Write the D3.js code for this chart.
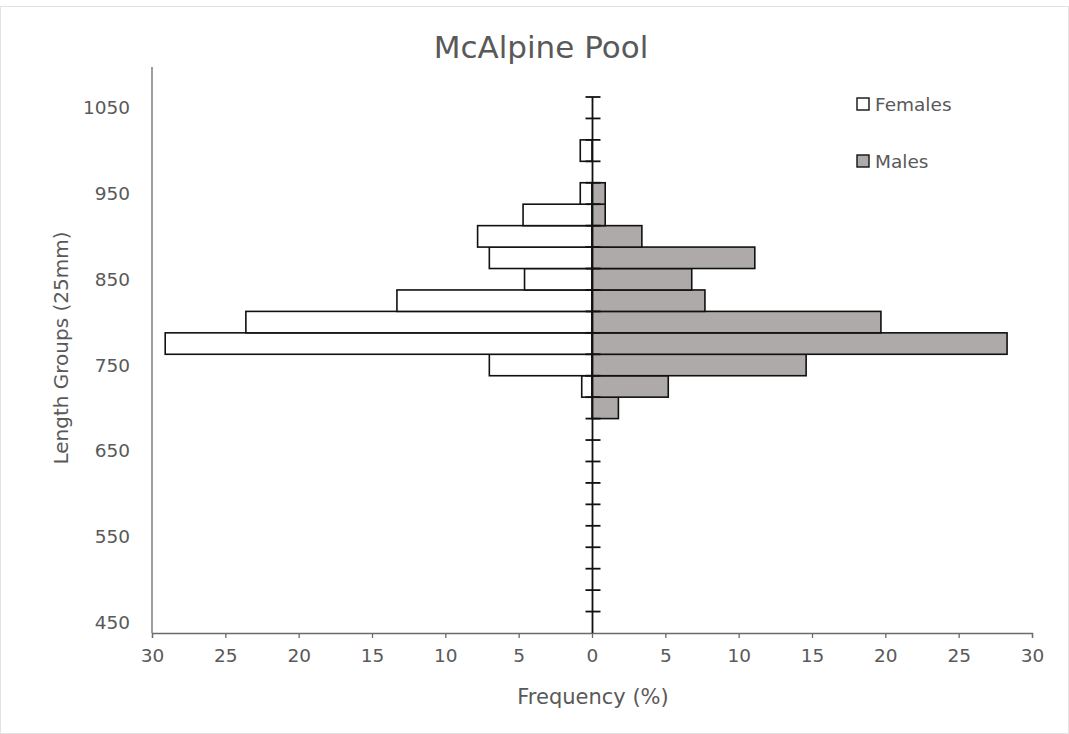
<!DOCTYPE html>
<html>
<head>
<meta charset="utf-8">
<script src="https://cdn.jsdelivr.net/npm/d3@7"></script>
<style>
  html, body { margin: 0; padding: 0; background: #fff; }
  text { font-family: "DejaVu Sans", sans-serif; fill: #595959; }
</style>
</head>
<body>
<svg id="chart" width="1069" height="734"></svg>
<script>
// ---- data ----
const lengthGroups = [450, 475, 500, 525, 550, 575, 600, 625, 650, 675, 700, 725, 750,
                      775, 800, 825, 850, 875, 900, 925, 950, 975, 1000, 1025, 1050];
const females = [0, 0, 0, 0, 0, 0, 0, 0, 0, 0, 0, 0.7, 7.0,
                 29.1, 23.6, 13.3, 4.6, 7.0, 7.8, 4.7, 0.8, 0, 0.8, 0, 0];
const males   = [0, 0, 0, 0, 0, 0, 0, 0, 0, 0, 1.8, 5.2, 14.6,
                 28.3, 19.7, 7.7, 6.8, 11.1, 3.4, 0.9, 0.9, 0, 0, 0, 0];
const yLabels = [450, 550, 650, 750, 850, 950, 1050];
const xTicks = [-30, -25, -20, -15, -10, -5, 0, 5, 10, 15, 20, 25, 30];
const seriesNames = ["Females", "Males"];
const seriesColors = ["#ffffff", "#aeaaaa"];

// ---- layout ----
const svg = d3.select("#chart");
const W = 1069, H = 734;
const plot = { left: 152, right: 1032, top: 67, bottom: 633, bandTop: 97 };

svg.append("rect").attr("x", 0.5).attr("y", 6.5).attr("width", W - 1).attr("height", H - 7)
  .attr("fill", "#fff").attr("stroke", "#e3e3e3");

const x = d3.scaleLinear().domain([-30, 30]).range([plot.left, plot.right]);
const y = d3.scaleBand().domain(lengthGroups).range([plot.bottom, plot.bandTop]).padding(0);

// title
svg.append("text").attr("x", 541).attr("y", 47).attr("text-anchor", "middle")
  .attr("dominant-baseline", "central").style("font-size", "31px").text("McAlpine Pool");

// bars
const rows = lengthGroups.map((g, i) => ({ g, f: females[i], m: males[i] }));
const barG = svg.append("g");
barG.selectAll("rect.f").data(rows.filter(d => d.f > 0)).join("rect")
  .attr("class", "f")
  .attr("x", d => x(-d.f)).attr("width", d => x(0) - x(-d.f))
  .attr("y", d => y(d.g)).attr("height", y.bandwidth())
  .attr("fill", seriesColors[0]).attr("stroke", "#111").attr("stroke-width", 1.6);
barG.selectAll("rect.m").data(rows.filter(d => d.m > 0)).join("rect")
  .attr("class", "m")
  .attr("x", x(0)).attr("width", d => x(d.m) - x(0))
  .attr("y", d => y(d.g)).attr("height", y.bandwidth())
  .attr("fill", seriesColors[1]).attr("stroke", "#111").attr("stroke-width", 1.6);

// x axis
const xAxis = d3.axisBottom(x).tickValues(xTicks).tickSize(5).tickPadding(11)
  .tickFormat(d => Math.abs(d));
const xg = svg.append("g").attr("transform", `translate(0,${plot.bottom})`).call(xAxis);
xg.select(".domain").attr("stroke", "#6b6b6b").attr("stroke-width", 1.3);
xg.selectAll(".tick line").attr("stroke", "#6b6b6b").attr("stroke-width", 1.3);
xg.selectAll(".tick text").style("font-size", "18.5px").style("font-family", "DejaVu Sans")
  .attr("fill", "#595959");

// left axis line
svg.append("line").attr("x1", plot.left).attr("x2", plot.left)
  .attr("y1", plot.top).attr("y2", plot.bottom)
  .attr("stroke", "#6b6b6b").attr("stroke-width", 1.3);

// y labels
svg.append("g").selectAll("text").data(yLabels).join("text")
  .attr("x", 130).attr("y", d => y(d) + y.bandwidth() / 2)
  .attr("text-anchor", "end").attr("dominant-baseline", "central")
  .style("font-size", "18.5px").text(d => d);

// center axis
const cg = svg.append("g");
cg.append("line").attr("x1", x(0) + 0.5).attr("x2", x(0) + 0.5)
  .attr("y1", plot.bandTop).attr("y2", plot.bottom)
  .attr("stroke", "#111").attr("stroke-width", 1.8);
cg.selectAll("line.t").data(lengthGroups).join("line").attr("class", "t")
  .attr("x1", x(0) - 6.5).attr("x2", x(0) + 8.5)
  .attr("y1", d => y(d)).attr("y2", d => y(d))
  .attr("stroke", "#111").attr("stroke-width", 1.8);

// axis titles
svg.append("text").attr("x", 593).attr("y", 697).attr("text-anchor", "middle")
  .attr("dominant-baseline", "central").style("font-size", "21px").text("Frequency (%)");
svg.append("text").attr("transform", "translate(61,348) rotate(-90)")
  .attr("text-anchor", "middle").attr("dominant-baseline", "central")
  .style("font-size", "20px").text("Length Groups (25mm)");

// legend
const legY = [104, 161];
const lg = svg.append("g");
seriesNames.forEach((name, i) => {
  lg.append("rect").attr("x", 857).attr("y", legY[i] - 6).attr("width", 12).attr("height", 12)
    .attr("fill", seriesColors[i]).attr("stroke", "#111").attr("stroke-width", 1.4);
  lg.append("text").attr("x", 875).attr("y", legY[i]).attr("dominant-baseline", "central")
    .style("font-size", "18.5px").text(name);
});
</script>
</body>
</html>
